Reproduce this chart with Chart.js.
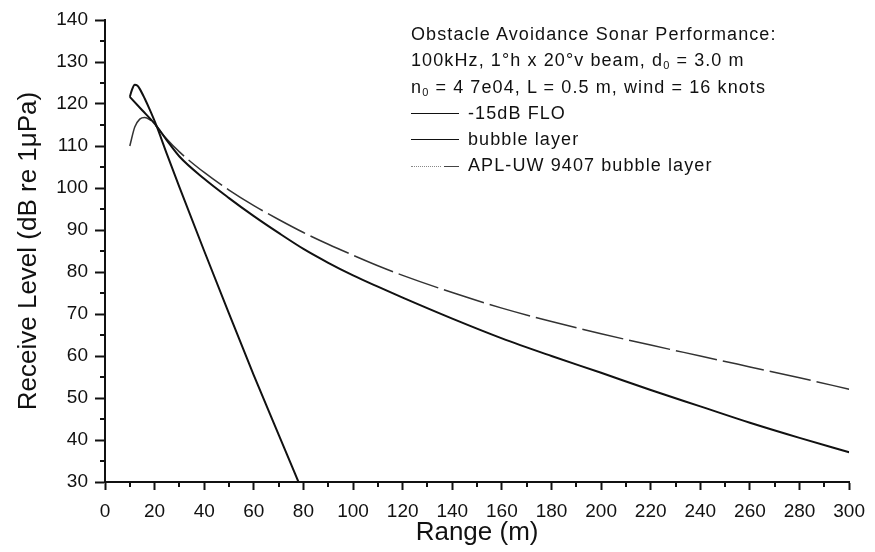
<!DOCTYPE html>
<html>
<head>
<meta charset="utf-8">
<script src="https://cdn.jsdelivr.net/npm/chart.js@4/dist/chart.umd.min.js"></script>
<style>
  html, body { margin: 0; padding: 0; background: #fff; }
  #wrap { position: relative; width: 875px; height: 552px; }
  #note { position: absolute; left: 411px; top: 21px; font-family: "Liberation Sans", Arial, sans-serif;
          font-size: 18px; line-height: 26.3px; letter-spacing: 1.1px; color: #111; white-space: nowrap; }
  #note sub { font-size: 11px; vertical-align: -3px; line-height: 0; }
  .key { display: inline-block; width: 48px; height: 0; vertical-align: middle; margin-right: 9px; border-top: 1.5px solid #111; position: relative; top: -1px; }
  .key.apl { border-top: none; }
  .key.apl span { display: inline-block; height: 0; vertical-align: top; }
</style>
</head>
<body>
<div id="wrap">
  <canvas id="sonar" width="875" height="552"></canvas>
  <div id="note">
    <div>Obstacle Avoidance Sonar Performance:</div>
    <div>100kHz, 1°h x 20°v beam, d<sub>0</sub> = 3.0 m</div>
    <div>n<sub>0</sub> = 4 7e04, L = 0.5 m, wind = 16 knots</div>
    <div><span class="key"></span>-15dB FLO</div>
    <div><span class="key"></span>bubble layer</div>
    <div><span class="key apl"><span style="width:30px;border-top:1.5px dotted #888"></span><span style="width:3px"></span><span style="width:15px;border-top:1.5px solid #444"></span></span>APL-UW 9407 bubble layer</div>
  </div>
</div>
<script>
// range (m) and receive level (dB re 1uPa)
const floRange = [10, 15, 20, 25, 30, 40, 50, 60, 70, 80, 90, 100, 110, 120, 140, 160, 180, 200, 220, 240, 260, 280, 300];
const floLevel = [121.7, 118.5, 115.3, 111.3, 107.5, 102.2, 97.6, 93.3, 89.3, 85.5, 82.2, 79.2, 76.5, 73.9, 68.9, 64.2, 60.0, 56.0, 51.9, 48.0, 44.1, 40.5, 37.1];

const bubbleRange = [10, 11, 12, 13, 14, 16, 18, 20.7, 25, 30, 40, 50, 60, 70, 78];
const bubbleLevel = [121.7, 123.6, 124.6, 124.4, 123.6, 121.3, 118.7, 114.9, 108.0, 100.2, 85.0, 70.1, 55.4, 41.3, 30.0];

const aplRange = [10, 12, 14, 16, 18, 20, 25, 30, 40, 50, 60, 70, 80, 90, 100, 110, 120, 140, 160, 180, 200, 220, 240, 260, 280, 300];
const aplLevel = [110.0, 114.5, 116.4, 116.8, 116.3, 115.2, 111.6, 108.6, 103.7, 99.5, 95.8, 92.5, 89.4, 86.6, 84.0, 81.5, 79.2, 75.1, 71.4, 68.2, 65.3, 62.6, 60.0, 57.4, 54.8, 52.1];

const xTicks = [0, 300, 20];   // min, max, step
const yTicks = [30, 140, 10];

const pts = (xs, ys) => xs.map((x, i) => ({ x, y: ys[i] }));
const FONT = '"Liberation Sans", Arial, sans-serif';

// short minor ticks half way between the labelled ones
const minorTicks = {
  id: 'minorTicks',
  afterDraw(chart) {
    const { ctx, scales: { x, y } } = chart;
    ctx.save();
    ctx.strokeStyle = '#111';
    ctx.lineWidth = 2;
    ctx.beginPath();
    for (let v = xTicks[0] + xTicks[2] / 2; v < xTicks[1]; v += xTicks[2]) {
      const px = Math.round(x.getPixelForValue(v));
      ctx.moveTo(px, x.top); ctx.lineTo(px, x.top + 5);
    }
    for (let v = yTicks[0] + yTicks[2] / 2; v < yTicks[1]; v += yTicks[2]) {
      const py = Math.round(y.getPixelForValue(v));
      ctx.moveTo(y.right, py); ctx.lineTo(y.right - 5, py);
    }
    ctx.stroke();
    ctx.restore();
  }
};

const line = (label, data, extra) => Object.assign({
  label, data, borderColor: '#111', borderWidth: 2, pointRadius: 0,
  cubicInterpolationMode: 'monotone', fill: false
}, extra);

new Chart(document.getElementById('sonar'), {
  type: 'line',
  data: {
    datasets: [
      line('-15dB FLO', pts(floRange, floLevel)),
      line('bubble layer', pts(bubbleRange, bubbleLevel)),
      line('APL-UW 9407 bubble layer', pts(aplRange, aplLevel), { borderColor: '#333', borderWidth: 1.5, borderDash: [42, 6] })
    ]
  },
  options: {
    responsive: false,
    animation: false,
    layout: { padding: { top: 20, right: 20, left: 0, bottom: 0 } },
    plugins: { legend: { display: false }, tooltip: { enabled: false } },
    scales: {
      x: {
        type: 'linear', min: xTicks[0], max: xTicks[1],
        afterFit(s) { s.height = 70; },
        border: { color: '#111', width: 2 },
        grid: { drawOnChartArea: false, tickLength: 8, tickWidth: 2, tickColor: '#111' },
        ticks: { stepSize: xTicks[2], color: '#111', padding: 10, maxRotation: 0, font: { family: FONT, size: 19 } },
        title: { display: true, text: 'Range (m)', color: '#111', padding: { top: 0, bottom: 4 }, font: { family: FONT, size: 26 } }
      },
      y: {
        min: yTicks[0], max: yTicks[1],
        afterFit(s) { s.width = 105; },
        border: { color: '#111', width: 2 },
        grid: { drawOnChartArea: false, tickLength: 10, tickWidth: 2, tickColor: '#111' },
        ticks: { stepSize: yTicks[2], color: '#111', padding: 7, font: { family: FONT, size: 19 } },
        title: { display: true, text: 'Receive Level (dB re 1μPa)', color: '#111', padding: { top: 13, bottom: 0 }, font: { family: FONT, size: 26 } }
      }
    }
  },
  plugins: [minorTicks]
});
</script>
</body>
</html>
